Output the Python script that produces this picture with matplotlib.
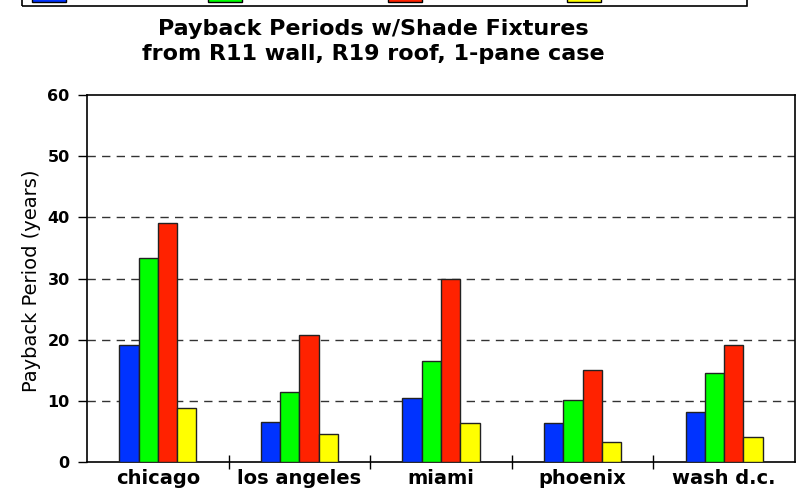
import matplotlib
matplotlib.use("Agg")
import matplotlib.pyplot as plt
import numpy as np
from matplotlib.patches import Rectangle

cities = ["chicago", "los angeles", "miami", "phoenix", "wash d.c."]
series_names = ["Shade 1", "Shade 2", "Shade 3", "Shade 4"]
blue_vals = [19.2, 6.6, 10.5, 6.4, 8.2]
green_vals = [33.4, 11.4, 16.5, 10.1, 14.6]
red_vals = [39.1, 20.8, 29.9, 15.0, 19.1]
yellow_vals = [8.9, 4.5, 6.4, 3.3, 4.1]
colors = ["#0033FF", "#00FF00", "#FF2200", "#FFFF00"]
y_ticks = [0, 10, 20, 30, 40, 50, 60]

plt.rcParams['font.family'] = ['DejaVu Sans']

fig = plt.figure(figsize=(8, 5), dpi=100)
ax = fig.add_axes([87/800, 1-462/500, (795-87)/800, (462-95)/500])

series = [blue_vals, green_vals, red_vals, yellow_vals]
x = np.arange(len(cities))
bw = 0.136
for i, vals in enumerate(series):
    ax.bar(x + (i - 1.5) * bw, vals, width=bw, color=colors[i],
           edgecolor="#222222", linewidth=1.0, zorder=3, label=series_names[i])

ax.set_xlim(-0.5, len(cities) - 0.5)
ax.set_ylim(0, 60)
ax.set_yticks(y_ticks)
ax.set_yticklabels([str(t) for t in y_ticks], fontsize=11.5, fontweight='bold')
ax.set_xticks(x)
ax.set_xticklabels(cities, fontsize=14, fontweight='bold')
ax.tick_params(axis='x', length=0, pad=5)
ax.tick_params(axis='y', length=6.5, width=1, direction='out', pad=6)
# category separators
ax.set_xticks(np.arange(-0.5, len(cities) + 0.5, 1)[1:-1], minor=True)
ax.tick_params(axis='x', which='minor', length=9.5, width=1, direction='inout')

for t in y_ticks[1:-1]:
    ax.axhline(t, color='#333333', linestyle=(0, (6, 4.5)), linewidth=1, zorder=1)

for s in ax.spines.values():
    s.set_linewidth(1.2)
    s.set_color('black')

fig.text(32/800, 1-281/500, "Payback Period (years)", rotation=90, ha='center', va='center',
         fontsize=14)

fig.text(373/800, 1-29.5/500, "Payback Periods w/Shade Fixtures", ha='center', va='center',
         fontsize=16, fontweight='bold')
fig.text(373/800, 1-53.5/500, "from R11 wall, R19 roof, 1-pane case", ha='center', va='center',
         fontsize=16, fontweight='bold')

# clipped legend box at the top
fig.patches.append(Rectangle((22/800, 1-6/500), (747-22)/800, 30/500, transform=fig.transFigure,
                             fill=False, edgecolor='black', linewidth=1.2))
for i, x0 in enumerate([32, 208, 388, 567]):
    fig.patches.append(Rectangle((x0/800, 1-2/500), 34/800, 10/500, transform=fig.transFigure,
                                 facecolor=colors[i], edgecolor='black', linewidth=1.0))

fig.savefig("out.png", dpi=100)
